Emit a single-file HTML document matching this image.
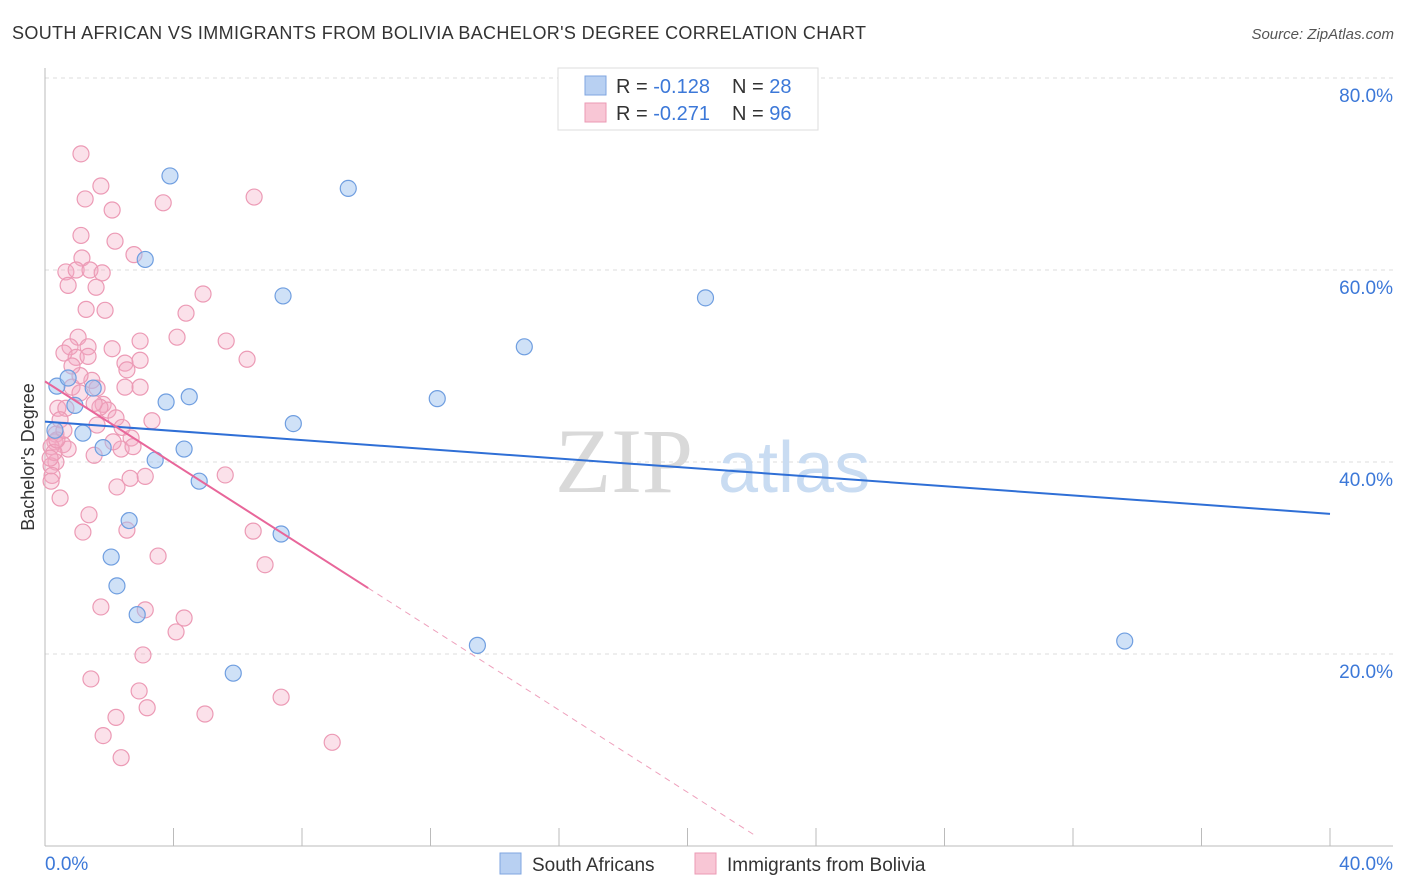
<!DOCTYPE html>
<html><head><meta charset="utf-8"><style>
body{margin:0;background:#fff;font-family:"Liberation Sans",sans-serif;}
#wrap{position:relative;width:1406px;height:892px;overflow:hidden;}
</style></head><body>
<div id="wrap">
<svg id="svg" width="1406" height="892" xmlns="http://www.w3.org/2000/svg">
<text x="12" y="39" font-size="18" fill="#333" textLength="854">SOUTH AFRICAN VS IMMIGRANTS FROM BOLIVIA BACHELOR'S DEGREE CORRELATION CHART</text>
<text x="1394" y="39" font-size="15" fill="#555" font-style="italic" text-anchor="end">Source: ZipAtlas.com</text>
<g id="grid"></g>
<text x="555" y="492" font-size="92" fill="#d9d9d9" font-family="Liberation Serif,serif">ZIP</text>
<text x="718" y="492" font-size="72" fill="#c9dcf2">atlas</text>
<g id="pts"></g>
<g id="lines"></g>
<text transform="translate(34,457) rotate(-90)" font-size="18" fill="#333" text-anchor="middle">Bachelor's Degree</text>
<g>
<rect x="558" y="68" width="260" height="62" fill="#fff" stroke="#ddd"/>
<rect x="585" y="76" width="21" height="19" fill="#b8d0f2" stroke="#7fa6e0"/>
<rect x="585" y="103" width="21" height="19" fill="#f8c6d5" stroke="#eb9ab4"/>
<text x="616" y="93" font-size="20" fill="#333">R = <tspan fill="#3c78d8">-0.128</tspan></text>
<text x="732" y="93" font-size="20" fill="#333">N = <tspan fill="#3c78d8">28</tspan></text>
<text x="616" y="120" font-size="20" fill="#333">R = <tspan fill="#3c78d8">-0.271</tspan></text>
<text x="732" y="120" font-size="20" fill="#333">N = <tspan fill="#3c78d8">96</tspan></text>
</g>
<g>
<rect x="500" y="853" width="21" height="21" fill="#b8d0f2" stroke="#7fa6e0"/>
<text x="532" y="871" font-size="19" fill="#333">South Africans</text>
<rect x="695" y="853" width="21" height="21" fill="#f8c6d5" stroke="#eb9ab4"/>
<text x="727" y="871" font-size="19" fill="#333">Immigrants from Bolivia</text>
</g>
</svg>
</div>
<script>
const blueX=[3.89,9.44,3.12,7.41,20.56,14.92,0.37,0.72,1.50,0.93,3.77,4.49,7.73,12.21,1.18,1.81,4.33,3.43,4.80,2.62,7.35,2.06,2.24,2.87,13.46,33.61,5.86,0.31];
const blueY=[69.8,68.5,61.1,57.3,57.1,52.0,47.9,48.75,47.7,45.9,46.25,46.8,44.0,46.6,43.0,41.5,41.35,40.2,38.0,33.9,32.5,30.1,27.1,24.1,20.9,21.35,18.0,43.3];
const pinkX=[1.12,1.74,1.25,2.09,3.68,6.51,1.12,2.18,2.77,1.15,0.65,0.97,1.40,1.78,0.72,1.59,1.28,1.87,4.92,4.39,1.03,4.11,5.64,2.96,0.78,1.34,0.59,2.09,0.97,1.34,6.29,2.49,2.55,1.46,0.84,1.62,2.49,2.96,0.40,0.65,1.09,1.81,1.96,0.47,2.21,3.33,1.62,2.40,0.34,2.68,0.56,0.72,0.31,0.19,1.53,2.37,2.74,0.34,0.19,0.22,0.19,0.28,2.24,2.65,3.12,5.61,0.47,1.37,1.18,2.55,6.48,3.52,6.85,1.74,3.12,4.33,4.08,3.05,1.43,2.93,7.35,3.18,4.98,2.21,1.81,8.94,2.37,0.37,0.59,0.16,2.12,2.96,1.09,0.84,1.71,1.53];
const pinkY=[72.1,68.75,67.4,66.25,67.0,67.6,63.6,63.0,61.6,61.25,59.8,60.0,60.0,59.7,58.4,58.2,55.9,55.8,57.5,55.5,53.0,53.0,52.6,52.6,52.0,52.0,51.35,51.8,50.9,51.0,50.7,50.3,49.6,48.5,47.8,47.7,47.8,47.8,45.6,45.6,47.2,46.0,45.4,44.4,44.6,44.3,43.85,43.6,42.9,42.5,41.8,41.35,42.1,41.6,40.7,41.35,41.6,40.0,39.6,38.6,38.0,41.0,37.4,38.3,38.5,38.65,36.25,34.5,32.7,32.9,32.8,30.2,29.3,24.9,24.6,23.75,22.3,19.9,17.4,16.15,15.5,14.4,13.75,13.4,11.5,10.8,9.2,42.3,43.3,40.4,42.1,50.6,49.0,50.0,45.7,46.1];
const yTicks=[20,40,60,80];
const xTickVals=[0,4,8,12,16,20,24,28,32,36,40];
const blueTrend=[44.2,-0.24];
const pinkTrend=[48.4,-2.14];
const pinkSolidEnd=10.06;
const pinkDashEnd=22.1;

const NS='http://www.w3.org/2000/svg';
const xs=v=>45+v*32.125;
const ys=v=>846-v*9.6;
function mk(tag,attrs,parent){const e=document.createElementNS(NS,tag);for(const k in attrs)e.setAttribute(k,attrs[k]);parent.appendChild(e);return e;}
const grid=document.getElementById('grid');
yTicks.forEach(t=>{
 const l=mk('line',{x1:45,x2:1393,y1:ys(t),y2:ys(t),stroke:'#dcdcdc','stroke-dasharray':'4,4'},grid);
 
 
 const tx=mk('text',{x:1393,y:ys(t)+24,'font-size':19,fill:'#3c78d8','text-anchor':'end'},grid);
 tx.textContent=t.toFixed(1)+'%';
 
 
});
mk('line',{x1:45,x2:45,y1:68,y2:846,stroke:'#bbb'},grid);
mk('line',{x1:45,x2:1393,y1:846,y2:846,stroke:'#bbb'},grid);
xTickVals.forEach(t=>{
 const l=mk('line',{x1:xs(t),x2:xs(t),y1:828,y2:846,stroke:'#bbb'},grid);
 
 
});
[[0,'start'],[40,'end']].forEach(([t,a])=>{
 const tx=mk('text',{x:t==0?45:1393,y:870,'font-size':19,fill:'#3c78d8','text-anchor':a},grid);
 tx.textContent=t.toFixed(1)+'%';
 
 
});
const pts=document.getElementById('pts');
pinkX.forEach((x,i)=>{
 const c=mk('circle',{cx:xs(x),cy:ys(pinkY[i]),r:8,fill:'rgba(244,170,195,0.35)',stroke:'#ec9ab5','stroke-width':1.2},pts);
 
 
});
blueX.forEach((x,i)=>{
 const c=mk('circle',{cx:xs(x),cy:ys(blueY[i]),r:8,fill:'rgba(160,195,240,0.5)',stroke:'#6f9ee0','stroke-width':1.2},pts);
 
 
});
const lines=document.getElementById('lines');
const bl=mk('line',{x1:xs(0),y1:ys(blueTrend[0]),x2:xs(40),y2:ys(blueTrend[0]+blueTrend[1]*40),stroke:'#2f6fd6','stroke-width':2},lines);


const pl=mk('line',{x1:xs(0),y1:ys(pinkTrend[0]),x2:xs(pinkSolidEnd),y2:ys(pinkTrend[0]+pinkTrend[1]*pinkSolidEnd),stroke:'#e8669a','stroke-width':2},lines);


const pd=mk('line',{x1:xs(pinkSolidEnd),y1:ys(pinkTrend[0]+pinkTrend[1]*pinkSolidEnd),x2:xs(pinkDashEnd),y2:ys(pinkTrend[0]+pinkTrend[1]*pinkDashEnd),stroke:'#eea0bc','stroke-width':1,'stroke-dasharray':'6,5'},lines);


</script>
</body></html>
